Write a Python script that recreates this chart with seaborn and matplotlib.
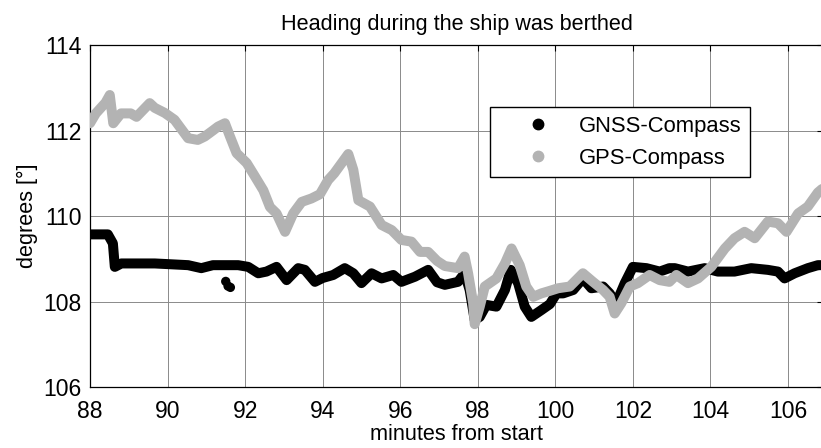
import numpy as np
import pandas as pd
import seaborn as sns
import matplotlib
matplotlib.use("Agg")
import matplotlib.pyplot as plt
from matplotlib.lines import Line2D

# ---- data ----
gps_x = [88.0, 88.15, 88.25, 88.4, 88.51, 88.6, 88.8, 89.05, 89.2, 89.54, 89.67, 89.93,
         90.18, 90.53, 90.78, 90.96, 91.17, 91.3, 91.48, 91.61, 91.78, 92.04, 92.25, 92.47,
         92.64, 92.81, 93.03, 93.24, 93.46, 93.71, 93.93, 94.14, 94.3, 94.66, 94.79, 94.92,
         95.22, 95.52, 95.78, 96.03, 96.29, 96.51, 96.72, 96.95, 97.15, 97.49, 97.66, 97.75,
         97.88, 97.92, 98.05, 98.18, 98.48, 98.7, 98.87, 99.08, 99.25, 99.43, 99.64, 99.86,
         100.07, 100.37, 100.71, 100.97, 101.23, 101.40, 101.53, 101.70, 101.92, 102.13,
         102.43, 102.69, 102.94, 103.12, 103.42, 103.68, 104.02, 104.37, 104.62, 104.88,
         105.14, 105.48, 105.74, 105.96, 106.26, 106.51, 106.77, 106.9]
gps_y = [112.17, 112.4, 112.5, 112.65, 112.83, 112.17, 112.4, 112.4, 112.32, 112.64, 112.53, 112.41,
         112.25, 111.82, 111.78, 111.86, 112.0, 112.09, 112.17, 111.86, 111.47, 111.24, 110.93, 110.6,
         110.21, 110.06, 109.63, 110.06, 110.33, 110.41, 110.51, 110.84, 111.0, 111.45, 111.08, 110.37,
         110.22, 109.79, 109.67, 109.44, 109.4, 109.16, 109.16, 108.95, 108.83, 108.78, 109.05, 108.66,
         107.96, 107.47, 107.88, 108.35, 108.54, 108.89, 109.24, 108.85, 108.35, 108.11, 108.19, 108.25,
         108.31, 108.35, 108.66, 108.46, 108.27, 108.11, 107.72, 107.96, 108.35, 108.43,
         108.62, 108.5, 108.46, 108.62, 108.43, 108.54, 108.81, 109.24, 109.48, 109.63,
         109.48, 109.87, 109.83, 109.63, 110.06, 110.22, 110.55, 110.65]

gnss_x = [88.0, 88.46, 88.59, 88.64, 88.81, 89.67, 90.53, 90.87, 91.17, 91.31, 91.82, 92.08,
          92.34, 92.55, 92.81, 93.07, 93.37, 93.54, 93.80, 94.0, 94.27, 94.57, 94.79, 95.0,
          95.26, 95.52, 95.82, 96.03, 96.38, 96.72, 96.95, 97.15, 97.49, 97.66, 97.79, 97.92,
          98.05, 98.22, 98.48, 98.7, 98.85, 99.04, 99.21, 99.38, 99.64, 99.86, 100.03, 100.2,
          100.46, 100.71, 100.93, 101.23, 101.4, 101.57, 101.79, 102.0, 102.35, 102.69, 102.94,
          103.08, 103.42, 103.85, 104.19, 104.62, 105.05, 105.48, 105.74, 105.91, 106.17,
          106.51, 106.77, 106.9]
gnss_y = [109.57, 109.57, 109.36, 108.81, 108.89, 108.89, 108.85, 108.78, 108.85, 108.85, 108.85, 108.81,
          108.66, 108.7, 108.81, 108.5, 108.78, 108.74, 108.46, 108.55, 108.62, 108.78, 108.66, 108.43,
          108.66, 108.54, 108.62, 108.46, 108.58, 108.74, 108.45, 108.39, 108.46, 108.66, 108.27, 107.57,
          107.64, 107.92, 107.88, 108.27, 108.74, 108.43, 107.88, 107.64, 107.8, 107.94, 108.19, 108.19,
          108.27, 108.54, 108.31, 108.35, 108.19, 107.96, 108.43, 108.81, 108.78, 108.7, 108.78,
          108.78, 108.7, 108.78, 108.7, 108.7, 108.78, 108.74, 108.7, 108.54, 108.66,
          108.78, 108.85, 108.85]

gnss_out_x = [91.50, 91.56, 91.62]
gnss_out_y = [108.47, 108.36, 108.33]

series_names = ["GNSS-Compass", "GPS-Compass"]
x_ticks = [88, 90, 92, 94, 96, 98, 100, 102, 104, 106]
y_ticks = [106, 108, 110, 112, 114]

# ---- styling ----
sns.set_theme(style="white")
plt.rcParams["font.family"] = ["Liberation Sans", "DejaVu Sans"]
plt.rcParams["text.color"] = "black"
plt.rcParams["axes.labelcolor"] = "black"

BLACK = "#000000"
GRAY = "#b3b3b3"

fig = plt.figure(figsize=(8.21, 4.48), dpi=100)
ax = fig.add_axes([90 / 821, 61 / 448, (823 - 90) / 821, 342 / 448])

gnss_df = pd.DataFrame({"x": gnss_x, "y": gnss_y})
gps_df = pd.DataFrame({"x": gps_x, "y": gps_y})
out_df = pd.DataFrame({"x": gnss_out_x, "y": gnss_out_y})

lw = 7.2
sns.lineplot(data=gnss_df, x="x", y="y", ax=ax, color=BLACK, linewidth=lw,
             estimator=None, sort=False, solid_capstyle="round", solid_joinstyle="round", zorder=3)
sns.scatterplot(data=out_df, x="x", y="y", ax=ax, color=BLACK, s=45, edgecolor="none", zorder=3)
sns.lineplot(data=gps_df, x="x", y="y", ax=ax, color=GRAY, linewidth=lw,
             estimator=None, sort=False, solid_capstyle="round", solid_joinstyle="round", zorder=4)

ax.set_xlim(88, 88 + (823 - 90) / 38.78)
ax.set_ylim(106, 114)
ax.set_xticks(x_ticks)
ax.set_yticks(y_ticks)
ax.tick_params(direction="in", length=4, width=0.8, top=True, right=True,
               labelsize=16.5, colors="black")
ax.tick_params(axis="x", pad=9)
ax.tick_params(axis="y", pad=6)
ax.grid(True, color="#8a8a8a", linewidth=0.7, linestyle="-")
ax.set_axisbelow(True)
for sp in ax.spines.values():
    sp.set_color("black")
    sp.set_linewidth(0.9)

ax.set_title("Heading during the ship was berthed", fontsize=15.6, pad=11, color="black")
ax.set_xlabel("minutes from start", fontsize=15.6, labelpad=1)
ax.set_ylabel("degrees [°]", fontsize=15.6, labelpad=4)

handles = [Line2D([], [], linestyle="none", marker="o", markersize=7.5, color=BLACK),
           Line2D([], [], linestyle="none", marker="o", markersize=7.5, color=GRAY)]
leg = ax.legend(handles, series_names, loc="upper left", bbox_to_anchor=(0.546, 0.819),
                fontsize=15.8, frameon=True, fancybox=False, framealpha=1, edgecolor="black",
                borderpad=0.4, handlelength=3.6, handletextpad=0.05, labelspacing=0.5,
                borderaxespad=0)
leg.get_frame().set_linewidth(1.0)
for t in leg.get_texts():
    t.set_color("black")

fig.savefig("out.png", dpi=100)
